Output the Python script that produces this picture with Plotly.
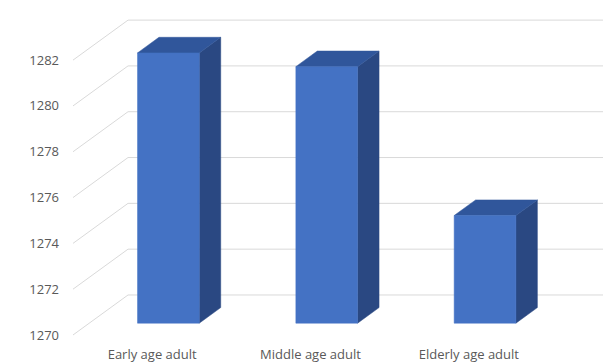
import plotly.graph_objects as go

categories = ["Early age adult", "Middle age adult", "Elderly age adult"]
values = [1281.8, 1281.2, 1274.7]
tick_values = [1270, 1272, 1274, 1276, 1278, 1280, 1282]

# oblique projection of depth (0 = front, 1 = back wall) in data units
DX = 0.3475
DY = 1.747
BAR_W = 0.39
D_FRONT, D_BACK = 0.295, 0.685
BASE = 1270
X_LEFT, X_RIGHT_BACK = -0.5, 2.5 + DX

FRONT = "#4472C4"
TOP = "#30569B"
SIDE = "#2A4882"
GRID = "#D9D9D9"


def proj(x, v, d):
    return x + d * DX, v + d * DY


fig = go.Figure()

# gridlines: diagonal from front edge to back wall, then along back wall
for t in tick_values:
    p0 = proj(X_LEFT, t, 0)
    p1 = proj(X_LEFT, t, 1)
    p2 = (X_RIGHT_BACK, t + DY)
    fig.add_trace(go.Scatter(x=[p0[0], p1[0], p2[0]], y=[p0[1], p1[1], p2[1]],
                             mode="lines", line=dict(color=GRID, width=1),
                             hoverinfo="skip", showlegend=False))


def poly(pts, color):
    xs = [p[0] for p in pts] + [pts[0][0]]
    ys = [p[1] for p in pts] + [pts[0][1]]
    fig.add_trace(go.Scatter(x=xs, y=ys, mode="lines", fill="toself",
                             fillcolor=color, line=dict(color=color, width=0.5),
                             hoverinfo="skip", showlegend=False))


for i, v in enumerate(values):
    xl, xr = i - BAR_W / 2, i + BAR_W / 2
    # side face
    poly([proj(xr, BASE, D_FRONT), proj(xr, BASE, D_BACK),
          proj(xr, v, D_BACK), proj(xr, v, D_FRONT)], SIDE)
    # top face
    poly([proj(xl, v, D_FRONT), proj(xl, v, D_BACK),
          proj(xr, v, D_BACK), proj(xr, v, D_FRONT)], TOP)
    # front face
    poly([proj(xl, BASE, D_FRONT), proj(xr, BASE, D_FRONT),
          proj(xr, v, D_FRONT), proj(xl, v, D_FRONT)], FRONT)

fig.update_layout(
    width=613, height=363,
    margin=dict(l=73, r=10, t=15, b=18, autoexpand=False),
    paper_bgcolor="white", plot_bgcolor="white",
    font=dict(family="Open Sans", size=13, color="#595959"),
    showlegend=False,
    xaxis=dict(range=[X_LEFT, X_RIGHT_BACK], tickvals=[0, 1, 2], ticktext=categories,
               showgrid=False, zeroline=False, showline=False, ticks="",
               automargin=False, tickfont=dict(size=13), fixedrange=True),
    yaxis=dict(range=[1269.563, 1283.97], tickvals=tick_values,
               ticktext=[str(t) for t in tick_values], automargin=False,
               showgrid=False, zeroline=False, showline=False, ticks="",
               ticklabelstandoff=13, fixedrange=True),
)

fig.write_html("out.html")
